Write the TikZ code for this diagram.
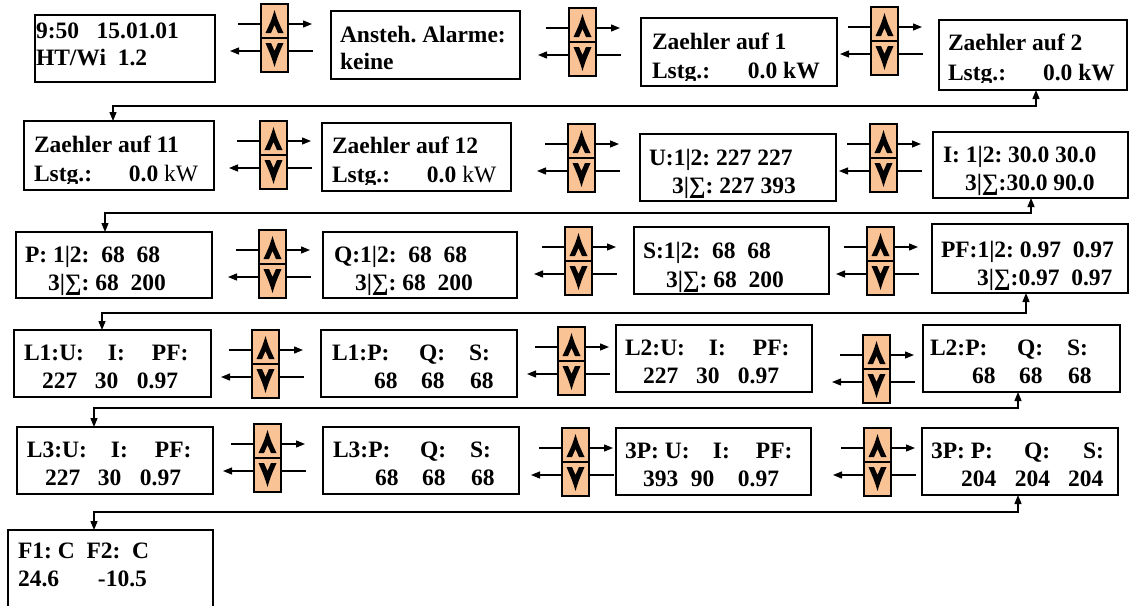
\documentclass[tikz,border=0pt]{standalone}
\usepackage{fontspec}
\setmainfont{Liberation Serif}
\frenchspacing
\usetikzlibrary{arrows.meta,calc}
\definecolor{peach}{HTML}{FAC395}
\tikzset{
  box/.style={draw, line width=1.6pt, rectangle, inner sep=0pt, outer sep=0pt},
  btnbox/.style={draw, line width=1.5pt, fill=peach, rectangle, minimum width=27pt, minimum height=68pt, inner sep=0pt, outer sep=0pt},
  txt/.style={inner sep=0pt, outer sep=0pt, anchor=base west, font=\bfseries\fontsize{23.5}{28}\selectfont},
  btnarrow/.style={line width=1.3pt, -{Triangle[length=9pt,width=7pt]}},
  btnline/.style={line width=1.3pt},
  connector/.style={line width=1.3pt, {Triangle[length=9pt,width=7pt]}-{Triangle[length=9pt,width=7pt]}},
}
\newcommand\seg[2]{\makebox[#1pt][l]{#2}}
\newcommand\bx[5]{\node[box, minimum width={(#4-#2)*1pt}, minimum height={(#5-#3)*1pt}] (#1) at ({(#2+#4)/2},{(#3+#5)/2}) {};}
\newcommand\btn[3]{%
  \node[btnbox] (#1) at ({#2+13.5},{#3+34}) {};
  \draw[btnline] ([xshift=-23pt,yshift=14pt]#1.west) -- ([yshift=14pt]#1.west);
  \draw[btnarrow] ([yshift=14pt]#1.east) -- ([xshift=24pt,yshift=14pt]#1.east);
  \draw[btnline] ([xshift=25pt,yshift=-13pt]#1.east) -- ([yshift=-13pt]#1.east);
  \draw[btnarrow] ([yshift=-13pt]#1.west) -- ([xshift=-31pt,yshift=-13pt]#1.west);
  \draw[line width=1.5pt] (#1.west) -- (#1.east);
  \fill[shift={(#1.center)}] (0,-28) .. controls (3,-18) .. (9,-5) -- (3.5,-5) -- (0,-13) -- (-3.5,-5) -- (-9,-5) .. controls (-3,-18) .. cycle;
  \fill[shift={(#1.center)}] (0,29) .. controls (3,19) .. (9,5) -- (3.5,5) -- (0,13) -- (-3.5,5) -- (-9,5) .. controls (-3,19) .. cycle;
}
\begin{document}
\begin{tikzpicture}[x=1pt,y=-1pt]
\useasboundingbox[fill=white] (0,0) rectangle (1129,605);

% boxes
\bx{A}{35}{15}{215}{82}
\bx{B}{331}{11}{520}{79}
\bx{C}{641}{18}{837}{86}
\bx{D}{939}{20}{1127}{90}
\bx{E}{24}{121}{214}{190}
\bx{F}{322}{123}{511}{191}
\bx{G}{640}{134}{836}{201}
\bx{H}{933}{132}{1128}{198}
\bx{I}{16}{232}{212}{298}
\bx{J}{323}{232}{517}{298}
\bx{K}{634}{227}{829}{294}
\bx{L}{932}{224}{1128}{293}
\bx{M}{14}{330}{211}{397}
\bx{N}{321}{330}{517}{397}
\bx{O}{616}{325}{812}{392}
\bx{P}{923}{325}{1120}{392}
\bx{Q}{17}{427}{213}{494}
\bx{R}{323}{427}{519}{494}
\bx{T}{616}{428}{811}{495}
\bx{U}{922}{428}{1118}{495}
\bx{S}{8}{530}{213}{615}

% buttons
\btn{b1}{261}{4}
\btn{b2}{569}{8}
\btn{b3}{871}{7}
\btn{b4}{260}{121}
\btn{b5}{568}{124}
\btn{b6}{870}{124}
\btn{b7}{259}{230}
\btn{b8}{565}{227}
\btn{b9}{867}{227}
\btn{b10}{252}{330}
\btn{b11}{558}{327}
\btn{b12}{863}{335}
\btn{b13}{254}{424}
\btn{b14}{562}{428}
\btn{b15}{864}{428}

% connectors between rows
\draw[connector] ([xshift=3pt]D.south) -- ++(0,16) -| ([xshift=-6pt]E.north);
\draw[connector] ([xshift=0.5pt]H.south) -- ++(0,15) -| ([xshift=-9pt]I.north);
\draw[connector] ([xshift=-4pt]L.south) -- ++(0,20) -| ([xshift=-10.5pt]M.north);
\draw[connector] ([xshift=-3.5pt]P.south) -- ++(0,16) -| ([xshift=-21pt]Q.north);
\draw[connector] ([xshift=-2pt]U.south) -- ++(0,17) -| ([xshift=-16.5pt]S.north);

% texts
\node[txt] (tA1) at (36,38) {9:50~~~15.01.01};
\node[txt] (tA2) at (36,65) {HT/Wi~~1.2};
\node[txt] (tB1) at (340,42) {Ansteh. Alarme:};
\node[txt] (tB2) at (340,69) {keine};
\node[txt] (tC1) at (652,49) {Zaehler auf 1};
\begin{scope}\clip (641,18) rectangle (837,80);
\node[txt] (tC2) at (652,78) {\seg{96}{Lstg.:}0.0 kW};
\end{scope}
\node[txt] (tD1) at (948,50) {Zaehler auf 2};
\begin{scope}\clip (939,20) rectangle (1127,82);
\node[txt] (tD2) at (948,80) {\seg{95}{Lstg.:}0.0 kW};
\end{scope}
\node[txt] (tE1) at (34,152) {Zaehler auf 11};
\begin{scope}\clip (24,121) rectangle (214,183);
\node[txt] (tE2) at (34,181) {\seg{95}{Lstg.:}0.0 {\mdseries kW}};
\end{scope}
\node[txt] (tF1) at (332,153) {Zaehler auf 12};
\begin{scope}\clip (322,123) rectangle (511,184);
\node[txt] (tF2) at (332,182) {\seg{95}{Lstg.:}0.0 {\mdseries kW}};
\end{scope}
\node[txt] (tG1) at (649,165) {U:1|2: 227 227};
\node[txt] (tG2) at (649,193) {\hspace*{23pt}3|∑: 227 393};
\node[txt] (tH1) at (943,162) {I: 1|2: 30.0 30.0};
\node[txt] (tH2) at (943,190) {\hspace*{22pt}3|∑:30.0 90.0};
\node[txt] (tI1) at (25,262) {P: 1|2:~~68~~68};
\node[txt] (tI2) at (25,290) {\hspace*{23pt}3|∑: 68~~200};
\node[txt] (tJ1) at (334,262) {Q:1|2:~~68~~68};
\node[txt] (tJ2) at (334,290) {\hspace*{21pt}3|∑: 68~~200};
\node[txt] (tK1) at (643,258) {S:1|2:~~68~~68};
\node[txt] (tK2) at (643,287) {\hspace*{23pt}3|∑: 68~~200};
\node[txt] (tL1) at (941,257) {PF:1|2: 0.97~~0.97};
\node[txt] (tL2) at (941,285) {\hspace*{36pt}3|∑:0.97~~0.97};
\node[txt] (tM1) at (24,360) {\seg{84}{L1:U:}\seg{44}{I:}PF:};
\node[txt] (tM2) at (24,388) {\hspace*{18pt}\seg{53}{227}\seg{42}{30}0.97};
\node[txt] (tN1) at (332,360) {\seg{87}{L1:P:}\seg{50}{Q:}S:};
\node[txt] (tN2) at (332,388) {\hspace*{42pt}\seg{47}{68}\seg{49}{68}68};
\node[txt] (tO1) at (625,355) {\seg{84}{L2:U:}\seg{44}{I:}PF:};
\node[txt] (tO2) at (625,383) {\hspace*{18pt}\seg{53}{227}\seg{42}{30}0.97};
\node[txt] (tP1) at (930,355) {\seg{87}{L2:P:}\seg{50}{Q:}S:};
\node[txt] (tP2) at (930,383) {\hspace*{42pt}\seg{47}{68}\seg{49}{68}68};
\node[txt] (tQ1) at (27,457) {\seg{84}{L3:U:}\seg{44}{I:}PF:};
\node[txt] (tQ2) at (27,485) {\hspace*{18pt}\seg{53}{227}\seg{42}{30}0.97};
\node[txt] (tR1) at (333,457) {\seg{87}{L3:P:}\seg{50}{Q:}S:};
\node[txt] (tR2) at (333,485) {\hspace*{42pt}\seg{47}{68}\seg{49}{68}68};
\node[txt] (tT1) at (625,458) {\seg{88}{3P: U:}\seg{43}{I:}PF:};
\node[txt] (tT2) at (625,486) {\hspace*{18pt}\seg{48}{393}\seg{47}{90}0.97};
\node[txt] (tU1) at (931,458) {\seg{93}{3P: P:}\seg{59}{Q:}S:};
\node[txt] (tU2) at (931,486) {\hspace*{30pt}\seg{54}{204}\seg{53}{204}204};
\node[txt] (tS1) at (18,558) {F1: C~~F2:~~C};
\node[txt] (tS2) at (18,586) {\seg{80}{24.6}-10.5};
\end{tikzpicture}
\end{document}
